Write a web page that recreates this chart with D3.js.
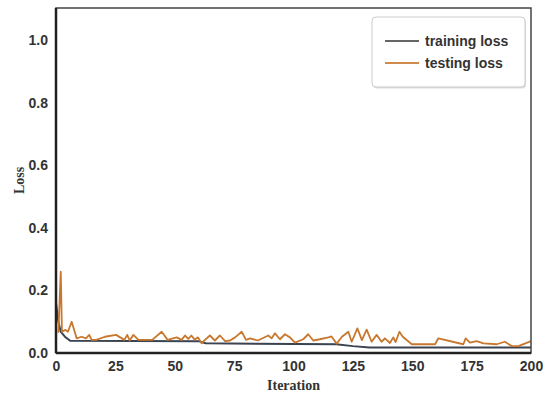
<!DOCTYPE html>
<html>
<head>
<meta charset="utf-8">
<script src="https://cdn.jsdelivr.net/npm/d3@7"></script>
<style>
    body { margin: 0; background: #fff; }
    svg { display: block; }
    .tick text { font-family: "Liberation Sans", Arial, sans-serif; font-weight: bold; font-size: 14px; fill: #333; }
</style>
</head>
<body>
<svg width="547" height="396"></svg>
<script>
const xTicks = [0, 25, 50, 75, 100, 125, 150, 175, 200];
const yTicks = [0.0, 0.2, 0.4, 0.6, 0.8, 1.0];

const trainIter = [0, 1, 2, 4, 6, 60, 63, 118, 125, 132, 200];
const trainLoss = [0.16, 0.1, 0.068, 0.05, 0.039, 0.038, 0.031, 0.028, 0.022, 0.018, 0.018];

const testIter = [1, 2, 2.5, 4, 5, 6.6, 8.7, 10.8, 12.6, 14, 15, 17, 20.6, 25.3, 28.8, 30, 31, 32.6, 34.7, 40.5, 44.5, 47, 50.8, 52.9,
    54.3, 55.7, 57, 58.4, 59.8, 61.3, 62.7, 64.8, 66.9, 69, 71.2, 73.3, 75.4, 78.2, 80, 81.7, 85, 89.4, 90.8, 92.2, 94.3, 96.4,
    98.5, 100.6, 104.1, 106.2, 108.3, 111.1, 114.7, 116, 118.2, 120.4, 123.1, 124.5, 126.9, 128.8, 130.8, 132.9, 135, 137.1,
    138.5, 140.6, 142, 143, 144.6, 146, 149.8, 159.6, 161, 171.5, 172.5, 174.3, 177.1, 180, 185.6, 189, 191.9, 194.7, 200];
const testLoss = [0.065, 0.26, 0.068, 0.074, 0.068, 0.1, 0.047, 0.052, 0.047, 0.058, 0.042, 0.042, 0.052, 0.058, 0.042, 0.058, 0.04, 0.058, 0.042, 0.042, 0.068, 0.042, 0.05, 0.042,
    0.056, 0.045, 0.056, 0.043, 0.05, 0.031, 0.042, 0.056, 0.04, 0.056, 0.038, 0.04, 0.05, 0.068, 0.042, 0.047, 0.04, 0.056, 0.047, 0.063, 0.044, 0.06,
    0.05, 0.033, 0.044, 0.06, 0.04, 0.044, 0.05, 0.053, 0.03, 0.052, 0.068, 0.036, 0.079, 0.041, 0.075, 0.036, 0.058, 0.036,
    0.047, 0.032, 0.05, 0.035, 0.068, 0.052, 0.028, 0.028, 0.047, 0.028, 0.047, 0.033, 0.038, 0.031, 0.028, 0.036, 0.022, 0.022, 0.038];

const seriesNames = ['training loss', 'testing loss'];
const seriesColors = ['#3b4250', '#c8782e'];

const svg = d3.select('svg');
const plotLeft = 56, plotRight = 531, plotTop = 8, plotBottom = 353;

const xScale = d3.scaleLinear().domain([0, 200]).range([plotLeft, plotRight]);
const yScale = d3.scaleLinear().domain([0, 1.104]).range([plotBottom, plotTop]);

const line = d3.line()
    .x(d => xScale(d[0]))
    .y(d => yScale(d[1]));

const trainData = d3.zip(trainIter, trainLoss);
const testData = d3.zip(testIter, testLoss);

svg.append('path')
    .datum(trainData)
    .attr('d', line)
    .attr('fill', 'none')
    .attr('stroke', seriesColors[0])
    .attr('stroke-width', 2);

svg.append('path')
    .datum(testData)
    .attr('d', line)
    .attr('fill', 'none')
    .attr('stroke', seriesColors[1])
    .attr('stroke-width', 1.8)
    .attr('stroke-linejoin', 'round');

// frame
svg.append('rect')
    .attr('x', plotLeft).attr('y', plotTop)
    .attr('width', plotRight - plotLeft).attr('height', plotBottom - plotTop)
    .attr('fill', 'none')
    .attr('stroke', '#444')
    .attr('stroke-width', 1.5);
svg.append('line')
    .attr('x1', plotLeft).attr('x2', plotLeft).attr('y1', plotTop).attr('y2', plotBottom)
    .attr('stroke', '#222').attr('stroke-width', 2.5);
svg.append('line')
    .attr('x1', plotLeft).attr('x2', plotRight).attr('y1', plotBottom).attr('y2', plotBottom)
    .attr('stroke', '#222').attr('stroke-width', 2.5);

// axes
const xAxis = svg.append('g')
    .attr('transform', `translate(0,${plotBottom})`)
    .call(d3.axisBottom(xScale).tickValues(xTicks).tickSize(0).tickPadding(8).tickFormat(d3.format('d')));
xAxis.select('.domain').remove();

const yAxis = svg.append('g')
    .attr('transform', `translate(${plotLeft},0)`)
    .call(d3.axisLeft(yScale).tickValues(yTicks).tickSize(0).tickPadding(8).tickFormat(d3.format('.1f')));
yAxis.select('.domain').remove();

svg.append('text')
    .attr('x', (plotLeft + plotRight) / 2)
    .attr('y', 390)
    .attr('text-anchor', 'middle')
    .style('font-family', '"Liberation Serif", "Times New Roman", serif')
    .style('font-weight', 'bold')
    .style('font-size', '14px')
    .style('fill', '#333')
    .text('Iteration');

svg.append('text')
    .attr('transform', `translate(24,${(plotTop + plotBottom) / 2}) rotate(-90)`)
    .attr('text-anchor', 'middle')
    .style('font-family', '"Liberation Serif", "Times New Roman", serif')
    .style('font-weight', 'bold')
    .style('font-size', '14px')
    .style('fill', '#333')
    .text('Loss');

// legend
const legend = svg.append('g').attr('transform', 'translate(372,17)');
legend.append('rect')
    .attr('x', 1).attr('y', 1.5)
    .attr('width', 153).attr('height', 70)
    .attr('rx', 4)
    .attr('fill', '#ddd');
legend.append('rect')
    .attr('width', 153).attr('height', 70)
    .attr('rx', 4)
    .attr('fill', '#fff')
    .attr('stroke', '#ccc');

const items = legend.selectAll('.item')
    .data(seriesNames)
    .enter().append('g')
    .attr('class', 'item')
    .attr('transform', (d, i) => `translate(0,${24 + i * 22})`);
items.append('line')
    .attr('x1', 13).attr('x2', 47)
    .attr('stroke', (d, i) => i === 0 ? '#666' : '#d08a50')
    .attr('stroke-width', 2);
items.append('text')
    .attr('x', 53)
    .attr('dy', '0.35em')
    .style('font-family', '"Liberation Sans", Arial, sans-serif')
    .style('font-weight', 'bold')
    .style('font-size', '14px')
    .style('fill', '#333')
    .text(d => d);
</script>
</body>
</html>
